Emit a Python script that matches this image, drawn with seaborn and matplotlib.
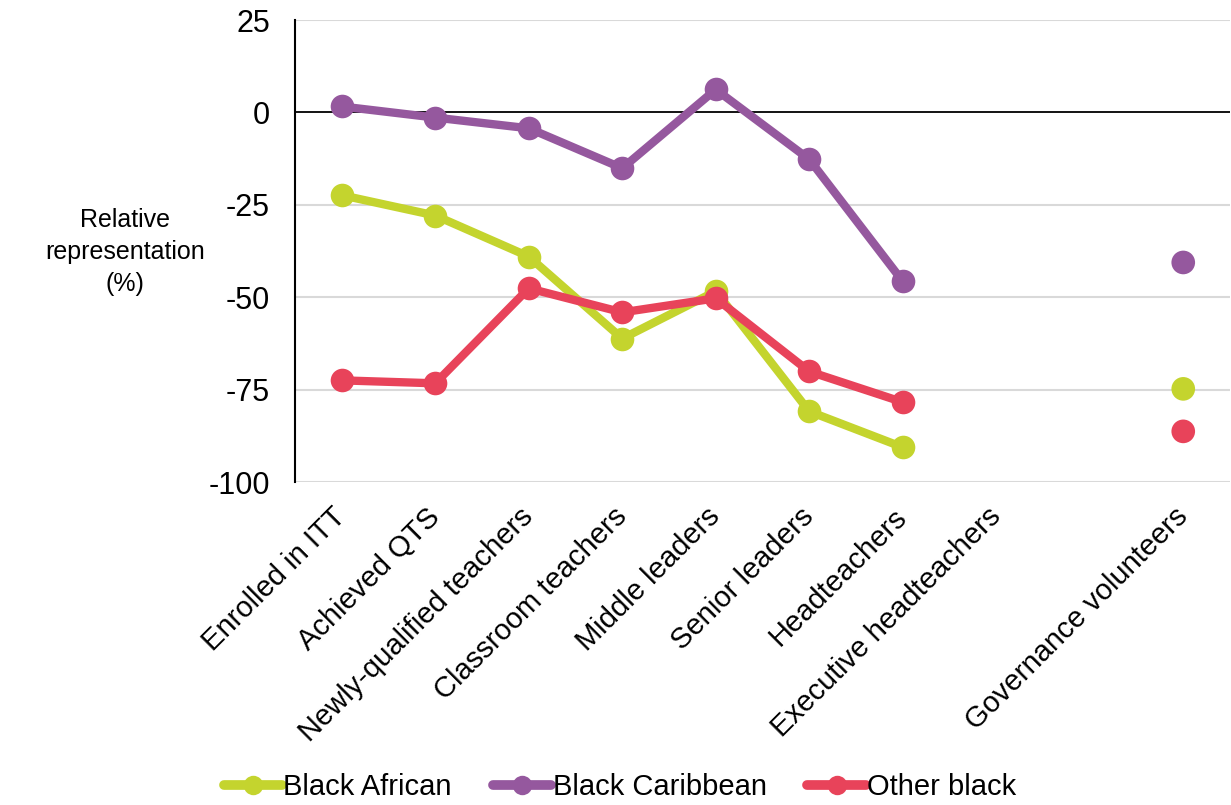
import matplotlib
matplotlib.use("Agg")
import matplotlib.pyplot as plt
import seaborn as sns
import numpy as np
import pandas as pd

categories = ["Enrolled in ITT", "Achieved QTS", "Newly-qualified teachers",
              "Classroom teachers", "Middle leaders", "Senior leaders",
              "Headteachers", "Executive headteachers", "", "Governance volunteers"]
series_names = ["Black African", "Black Caribbean", "Other black"]
black_african = [-22.4, -27.9, -39.0, -61.2, -48.4, -80.9, -90.6, np.nan, np.nan, -74.8]
black_caribbean = [1.6, -1.4, -4.3, -15.1, 6.2, -12.7, -45.7, np.nan, np.nan, -40.6]
other_black = [-72.5, -73.3, -47.6, -54.1, -50.3, -70.1, -78.4, np.nan, np.nan, -86.3]
colors = ["#C4D42E", "#95589E", "#E8435A"]
y_ticks = [25, 0, -25, -50, -75, -100]

sns.set_theme(style="white")
plt.rcParams['font.family'] = ['Liberation Sans', 'DejaVu Sans']
plt.rcParams['text.color'] = 'black'
plt.rcParams['xtick.color'] = 'black'
plt.rcParams['ytick.color'] = 'black'

rows = []
for name, vals in zip(series_names, [black_african, black_caribbean, other_black]):
    for i, v in enumerate(vals):
        rows.append({"pos": i, "series": name, "value": v})
df = pd.DataFrame(rows)
palette = dict(zip(series_names, colors))

fig = plt.figure(figsize=(12.31, 8.05), dpi=100)
ax = fig.add_axes([295/1231, 1-482/805, (1230-295)/1231, (482-20)/805])

for yv in [25, -25, -50, -75, -100]:
    ax.axhline(yv, color="#D9D9D9", lw=1.5, zorder=0)
ax.axhline(0, color="black", lw=1.3, zorder=1)

line_df = df[(df["pos"] <= 6)].dropna()
point_df = df[df["pos"] == 9].dropna()
sns.lineplot(data=line_df, x="pos", y="value", hue="series", palette=palette,
             hue_order=series_names, marker="o", markersize=17, linewidth=6,
             markeredgewidth=0, ax=ax, sort=False, estimator=None, legend=False, zorder=3)
sns.scatterplot(data=point_df, x="pos", y="value", hue="series", palette=palette,
                hue_order=series_names, s=290, linewidth=0, ax=ax, legend=False, zorder=3)

ax.set_xlim(-0.5, len(categories) - 0.5)
ax.set_ylim(-100, 25)
ax.set_yticks(y_ticks)
ax.set_yticklabels([str(t) for t in y_ticks], fontsize=22)
ax.set_xticks(range(len(categories)))
ax.set_xticklabels(categories, rotation=45, ha="right", va="center",
                   rotation_mode="anchor", fontsize=21)
ax.tick_params(axis="both", length=0)
ax.tick_params(axis="y", pad=18)
ax.tick_params(axis="x", pad=22)
ax.set_xlabel("")
ax.set_ylabel("")
for s in ["top", "right", "bottom"]:
    ax.spines[s].set_visible(False)
ax.spines["left"].set_color("black")
ax.spines["left"].set_linewidth(1.5)

fig.text(125/1231, 1-252/805, "Relative\nrepresentation\n(%)", ha="center", va="center",
         fontsize=18, linespacing=1.4)

from matplotlib.lines import Line2D
handles = [Line2D([0], [0], color=c, lw=7, marker="o", markersize=14, markeredgewidth=0,
                  solid_capstyle="round")
           for c in colors]
fig.legend(handles, series_names, loc="center", bbox_to_anchor=(620/1231, 1-787/805),
           ncol=3, frameon=False, fontsize=21, handlelength=2.0, handletextpad=0.05,
           columnspacing=1.4)

fig.savefig("out.png", dpi=100)
